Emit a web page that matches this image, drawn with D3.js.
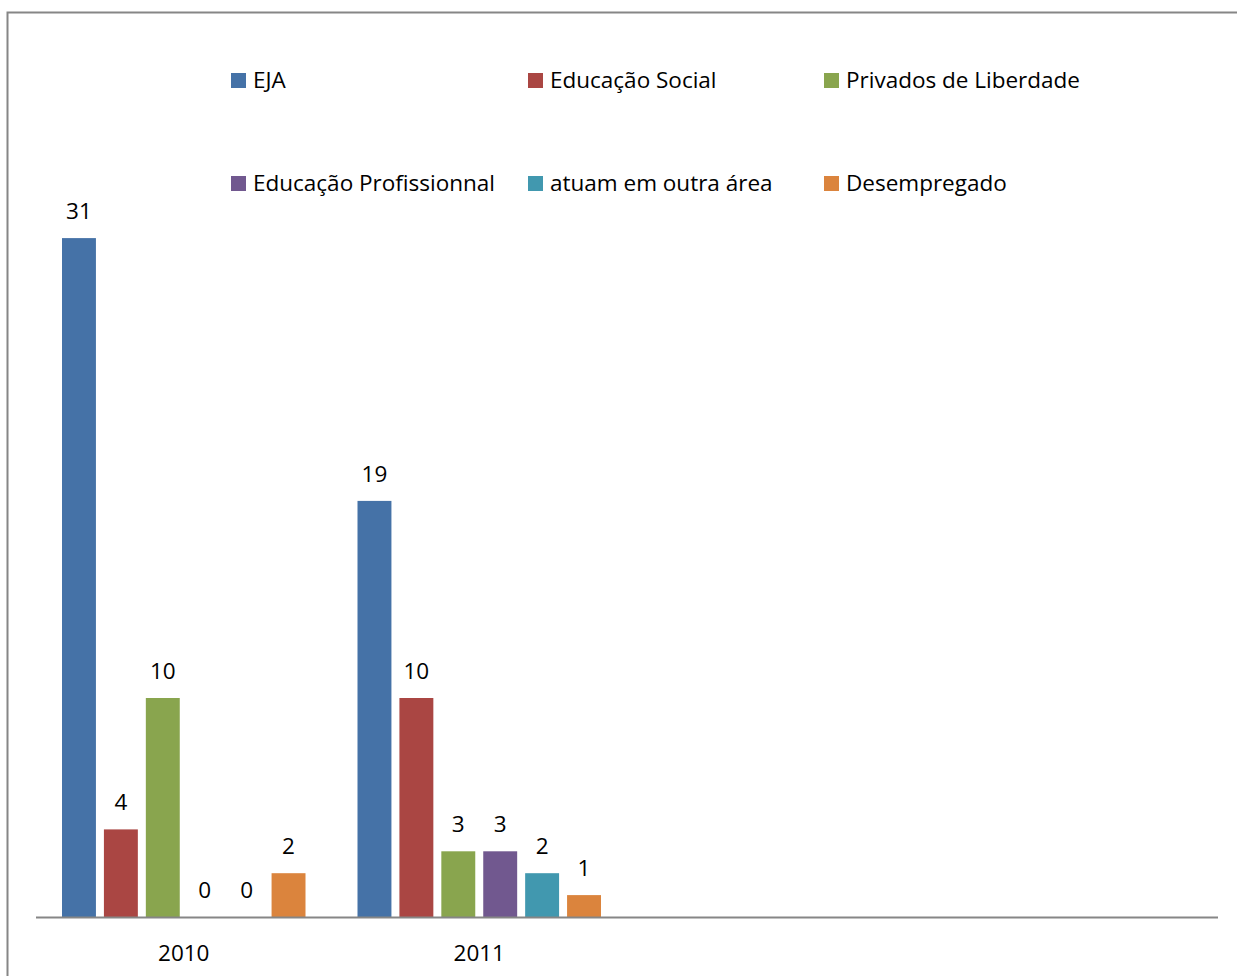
<!DOCTYPE html>
<html>
<head>
<meta charset="utf-8">
<script src="https://cdn.jsdelivr.net/npm/d3@7"></script>
<style>
	body { margin: 0; background: #fff; }
	text { font-family: "Open Sans", sans-serif; fill: #000; }
</style>
</head>
<body>
<svg width="1237" height="976"></svg>
<script>
// data
var categories = ["2010", "2011", "", " "];
var series = ["EJA", "Educação Social", "Privados de Liberdade", "Educação Profissionnal", "atuam em outra área", "Desempregado"];
var colors = ["#4572A7", "#AA4643", "#89A54E", "#71588F", "#4198AF", "#DB843D"];
var values2010 = [31, 4, 10, 0, 0, 2];
var values2011 = [19, 10, 3, 3, 2, 1];
var yearValues = [values2010, values2011];

var svg = d3.select("svg");

// frame
svg.append("rect")
	.attr("x", 7.5).attr("y", 12.5)
	.attr("width", 1250).attr("height", 1000)
	.attr("fill", "none").attr("stroke", "#868686").attr("stroke-width", 2);

var left = 36, right = 1218, base = 917;

var x0 = d3.scaleBand().domain(categories).range([left, right]).paddingInner(0).paddingOuter(0);
var x1 = d3.scaleBand().domain(d3.range(series.length)).range([26, x0.bandwidth() - 26]).paddingInner(8 / 42).paddingOuter(0);
var y = d3.scaleLinear().domain([0, 35]).range([base, base - 35 * 21.9]);

// bars
var groups = svg.append("g").attr("class", "bars")
	.selectAll("g").data(yearValues).enter().append("g")
	.attr("transform", function(d, i) { return "translate(" + x0(categories[i]) + ",0)"; });

groups.selectAll("rect").data(function(d) { return d; }).enter().append("rect")
	.attr("x", function(d, i) { return x1(i); })
	.attr("y", function(d) { return y(d); })
	.attr("width", x1.bandwidth())
	.attr("height", function(d) { return base - y(d); })
	.attr("fill", function(d, i) { return colors[i]; });

groups.selectAll("text").data(function(d) { return d; }).enter().append("text")
	.attr("x", function(d, i) { return x1(i) + x1.bandwidth() / 2; })
	.attr("y", function(d) { return y(d) - 19; })
	.attr("text-anchor", "middle")
	.attr("font-size", 22.5)
	.text(function(d) { return d; });

// axis
svg.append("line")
	.attr("x1", left).attr("x2", right)
	.attr("y1", base + 0.5).attr("y2", base + 0.5)
	.attr("stroke", "#868686").attr("stroke-width", 2);

svg.append("g").selectAll("text").data(categories.slice(0, 2)).enter().append("text")
	.attr("x", function(d) { return x0(d) + x0.bandwidth() / 2; })
	.attr("y", 961)
	.attr("text-anchor", "middle")
	.attr("font-size", 22.5)
	.text(function(d) { return d; });

// legend
var legendCols = [231, 528, 824], legendRows = [80, 183];
var legend = svg.append("g").attr("class", "legend")
	.selectAll("g").data(series).enter().append("g")
	.attr("transform", function(d, i) { return "translate(" + legendCols[i % 3] + "," + legendRows[Math.floor(i / 3)] + ")"; });

legend.append("rect")
	.attr("x", 0).attr("y", -7).attr("width", 15).attr("height", 15)
	.attr("fill", function(d, i) { return colors[i]; });

legend.append("text")
	.attr("x", 22).attr("y", 8)
	.attr("font-size", 22.5)
	.text(function(d) { return d; });
</script>
</body>
</html>
